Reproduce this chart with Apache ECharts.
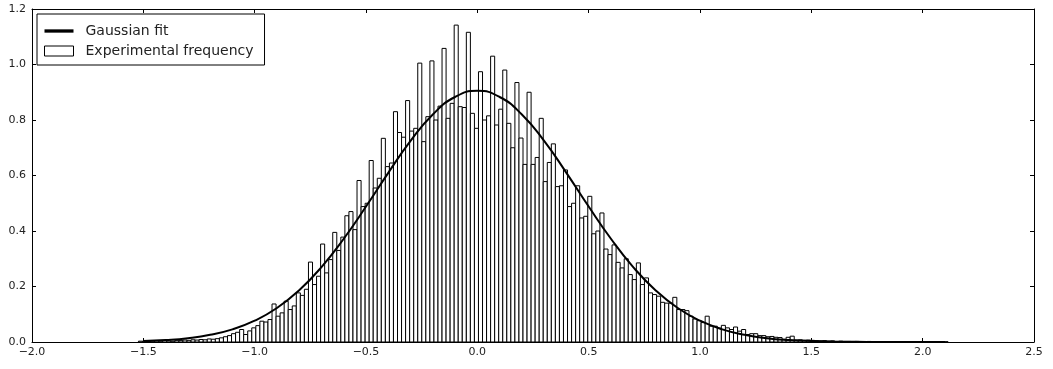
<!DOCTYPE html>
<html><head><meta charset="utf-8">
<script src="https://cdn.jsdelivr.net/npm/echarts@6/dist/echarts.min.js"></script>
<style>html,body{margin:0;padding:0;background:#fff}#c{width:1053px;height:369px}</style>
</head><body><div id="c"></div>
<script>
// Histogram bins (data units)
const binStart = -1.522;
const binWidth = 0.01818;
// Experimental frequency per bin (200 bins)
const frequency = [
  0.003, 0.003, 0.002, 0.003, 0.004, 0.003, 0.005, 0.004, 0.003, 0.006,
  0.005, 0.007, 0.006, 0.008, 0.007, 0.009, 0.008, 0.011, 0.010, 0.012,
  0.015, 0.019, 0.023, 0.030, 0.035, 0.045, 0.027, 0.040, 0.051, 0.059,
  0.075, 0.072, 0.081, 0.137, 0.093, 0.105, 0.147, 0.117, 0.130, 0.177,
  0.168, 0.190, 0.288, 0.207, 0.237, 0.353, 0.249, 0.297, 0.395, 0.330,
  0.378, 0.455, 0.470, 0.405, 0.582, 0.488, 0.500, 0.654, 0.555, 0.590,
  0.734, 0.632, 0.645, 0.830, 0.755, 0.738, 0.870, 0.760, 0.770, 1.005,
  0.722, 0.812, 1.013, 0.800, 0.850, 1.058, 0.806, 0.860, 1.142, 0.848,
  0.845, 1.116, 0.824, 0.770, 0.974, 0.800, 0.815, 1.030, 0.782, 0.839,
  0.980, 0.788, 0.700, 0.935, 0.735, 0.640, 0.900, 0.640, 0.665, 0.806,
  0.578, 0.647, 0.714, 0.560, 0.563, 0.620, 0.488, 0.500, 0.563, 0.447,
  0.453, 0.525, 0.390, 0.400, 0.465, 0.335, 0.315, 0.350, 0.287, 0.267,
  0.300, 0.243, 0.225, 0.285, 0.207, 0.231, 0.177, 0.171, 0.165, 0.143,
  0.140, 0.140, 0.161, 0.117, 0.117, 0.113, 0.093, 0.083, 0.077, 0.070,
  0.093, 0.057, 0.057, 0.050, 0.060, 0.051, 0.045, 0.054, 0.039, 0.045,
  0.027, 0.030, 0.030, 0.023, 0.023, 0.019, 0.020, 0.017, 0.016, 0.010,
  0.017, 0.021, 0.007, 0.008, 0.006, 0.007, 0.006, 0.005, 0.004, 0.005,
  0.003, 0.004, 0.002, 0.003, 0.002, 0.002, 0.001, 0.002, 0.001, 0.001,
  0.002, 0.001, 0.001, 0.001, 0.000, 0.001, 0.001, 0.000, 0.001, 0.000,
  0.001, 0.000, 0.000, 0.001, 0.000, 0.000, 0.001, 0.000, 0.000, 0.001
];
// Gaussian fit curve
const fitX = [-1.5,-1.4,-1.3,-1.2,-1.1,-1.0,-0.9,-0.8,-0.7,-0.6,-0.5,-0.4,-0.3,-0.2,-0.1,0.0,
              0.1,0.2,0.3,0.4,0.5,0.6,0.7,0.8,0.9,1.0,1.1,1.2,1.3,1.4,1.5,1.6,1.7,1.8,1.9,2.0,2.1];
const fitY = [0.0035,0.0072,0.0139,0.0259,0.0456,0.0767,0.1224,0.1864,0.2699,0.3721,0.4882,0.6096,0.7246,0.8199,0.8829,0.905,
              0.8829,0.8199,0.7246,0.6096,0.4882,0.3721,0.2699,0.1864,0.1224,0.0767,0.0456,0.0259,0.0139,0.0072,0.0035,0.0016,0.0007,0.0003,0.0001,0.0,0.0];
// Axes
const xMin = -2.0, xMax = 2.5, xStep = 0.5;
const yMin = 0.0, yMax = 1.2, yStep = 0.2;
const seriesNames = ['Gaussian fit', 'Experimental frequency'];

const chart = echarts.init(document.getElementById('c'), null, {renderer: 'canvas'});
const fmt = v => v.toFixed(1).replace('-', '\u2212');
const histData = frequency.map((f, i) => [binStart + i * binWidth, binStart + (i + 1) * binWidth, f]);
const font = 'DejaVu Sans';
const axisLine = {show: true, onZero: false, lineStyle: {color: '#000', width: 1}};
const tick = {show: true, inside: true, length: 4, lineStyle: {color: '#000', width: 1}};
const label = {formatter: fmt, color: '#222', fontSize: 11, fontFamily: font};

chart.setOption({
  animation: false,
  backgroundColor: '#fff',
  grid: {left: 32, right: 19, top: 9, bottom: 27},
  legend: {
    left: 37, top: 14, orient: 'vertical',
    backgroundColor: '#fff', borderColor: '#000', borderWidth: 1,
    padding: [10, 11, 7, 7], itemGap: 6, itemWidth: 29, itemHeight: 10,
    formatter: n => '{t|' + n + '}',
    textStyle: {fontSize: 14, fontFamily: font, color: '#222',
      rich: {t: {fontSize: 14, fontFamily: font, color: '#222', padding: [0, 0, 0, 7], lineHeight: 16}}},
    data: [
      {name: seriesNames[0], icon: 'path://M0,0 L21,0 L21,2.4 L0,2.4 Z', itemStyle: {color: '#000'}},
      {name: seriesNames[1], icon: 'rect', itemStyle: {color: '#fff', borderColor: '#000', borderWidth: 1}}
    ]
  },
  xAxis: [
    {type: 'value', min: xMin, max: xMax, interval: xStep, position: 'bottom',
     axisLine, axisTick: tick, splitLine: {show: false}, axisLabel: Object.assign({margin: 5}, label)},
    {type: 'value', min: xMin, max: xMax, interval: xStep, position: 'top',
     axisLine, axisTick: tick, splitLine: {show: false}, axisLabel: {show: false}}
  ],
  yAxis: [
    {type: 'value', min: yMin, max: yMax, interval: yStep, position: 'left',
     axisLine, axisTick: tick, splitLine: {show: false}, axisLabel: Object.assign({margin: 6}, label)},
    {type: 'value', min: yMin, max: yMax, interval: yStep, position: 'right',
     axisLine, axisTick: tick, splitLine: {show: false}, axisLabel: {show: false}}
  ],
  series: [
    {
      type: 'custom', name: seriesNames[1], xAxisIndex: 0, yAxisIndex: 0, z: 2,
      data: histData, encode: {x: [0, 1], y: 2},
      itemStyle: {color: '#fff', borderColor: '#000', borderWidth: 1},
      renderItem: (params, api) => {
        const p0 = api.coord([api.value(0), api.value(2)]);
        const p1 = api.coord([api.value(1), 0]);
        return {type: 'rect',
          shape: {x: p0[0], y: p0[1], width: p1[0] - p0[0], height: p1[1] - p0[1]},
          style: {fill: '#fff', stroke: '#000', lineWidth: 1}};
      }
    },
    {
      type: 'line', name: seriesNames[0], xAxisIndex: 0, yAxisIndex: 0, z: 3,
      data: fitX.map((x, i) => [x, fitY[i]]),
      smooth: true, symbol: 'none', lineStyle: {color: '#000', width: 2}
    }
  ]
});
</script></body></html>
